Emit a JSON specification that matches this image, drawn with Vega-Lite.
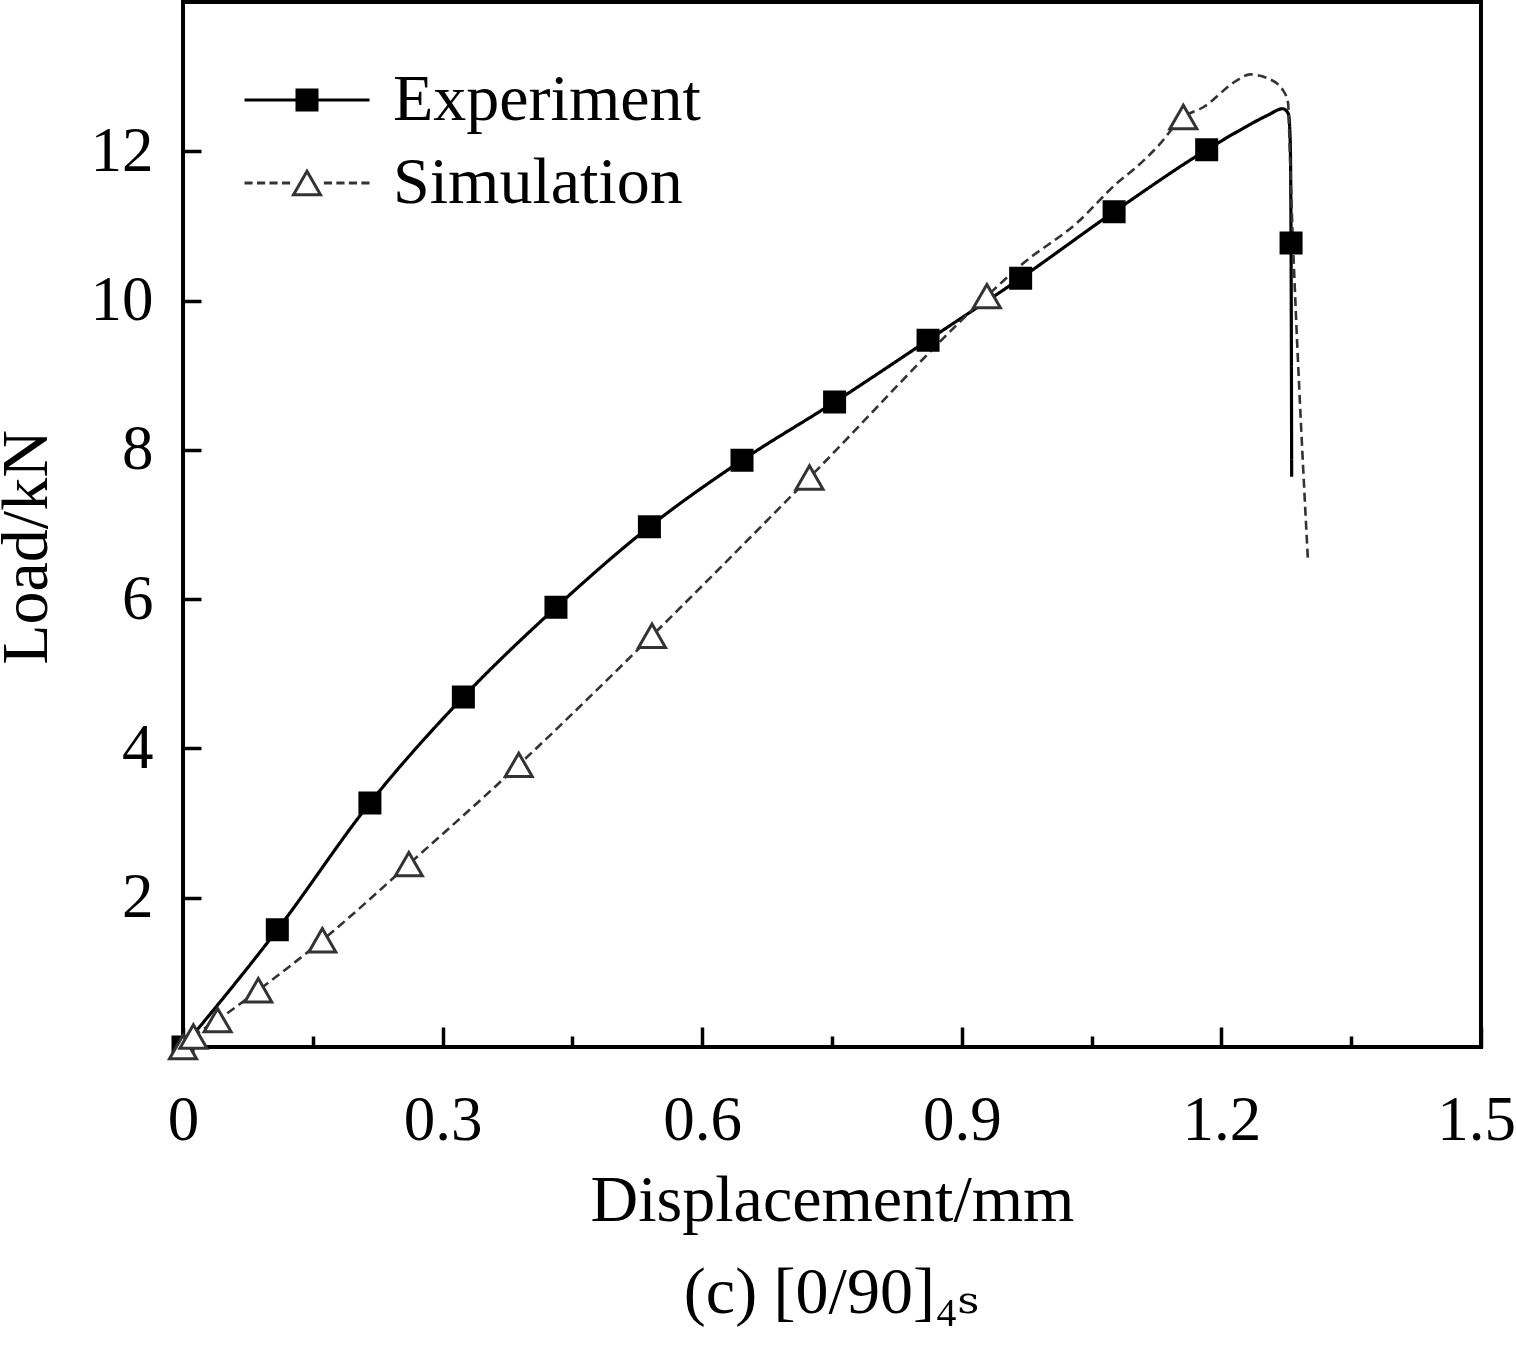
{
  "$schema": "https://vega.github.io/schema/vega-lite/v6.json",
  "width": 1298,
  "height": 1045,
  "autosize": "none",
  "padding": {"left": 183, "top": 2, "right": 35, "bottom": 299},
  "background": "white",
  "config": {
    "font": "Liberation Serif",
    "view": {"stroke": "black", "strokeWidth": 4},
    "axis": {
      "domain": false,
      "grid": false,
      "labelFont": "Liberation Serif",
      "labelFontSize": 63,
      "labelColor": "black",
      "titleFont": "Liberation Serif",
      "titleFontSize": 66,
      "titleFontWeight": "normal",
      "titleColor": "black",
      "tickColor": "black",
      "tickWidth": 3.5
    },
    "legend": {
      "title": null,
      "orient": "none",
      "legendX": 60,
      "legendY": 65,
      "padding": 0,
      "offset": 0,
      "labelFont": "Liberation Serif",
      "labelFontSize": 66,
      "labelColor": "black",
      "labelOffset": 22,
      "labelLimit": 1000,
      "symbolSize": 15625,
      "symbolStrokeWidth": 3,
      "symbolOpacity": 1,
      "clipHeight": 66,
      "rowPadding": 17
    }
  },
  "title": {
    "text": "(c) [0/90]₄ₛ",
    "orient": "bottom",
    "anchor": "middle",
    "font": "Liberation Serif, DejaVu Serif",
    "fontSize": 66,
    "fontWeight": "normal",
    "color": "black",
    "offset": 28
  },
  "datasets": {
    "curves": [
      {"series": "Experiment", "disp": 0, "load": 0},
      {"series": "Experiment", "disp": 0.109, "load": 1.57},
      {"series": "Experiment", "disp": 0.216, "load": 3.27},
      {"series": "Experiment", "disp": 0.324, "load": 4.69},
      {"series": "Experiment", "disp": 0.431, "load": 5.89},
      {"series": "Experiment", "disp": 0.539, "load": 6.97},
      {"series": "Experiment", "disp": 0.646, "load": 7.86},
      {"series": "Experiment", "disp": 0.753, "load": 8.64},
      {"series": "Experiment", "disp": 0.861, "load": 9.47},
      {"series": "Experiment", "disp": 0.968, "load": 10.3},
      {"series": "Experiment", "disp": 1.076, "load": 11.19},
      {"series": "Experiment", "disp": 1.183, "load": 12.02},
      {"series": "Experiment", "disp": 1.221, "load": 12.28},
      {"series": "Experiment", "disp": 1.253, "load": 12.48},
      {"series": "Experiment", "disp": 1.271, "load": 12.57},
      {"series": "Experiment", "disp": 1.2775, "load": 12.5},
      {"series": "Experiment", "disp": 1.2795, "load": 12.15},
      {"series": "Experiment", "disp": 1.2805, "load": 10.77},
      {"series": "Experiment", "disp": 1.2812, "load": 7.64},
      {"series": "Simulation", "disp": 0, "load": 0},
      {"series": "Simulation", "disp": 0.012, "load": 0.14},
      {"series": "Simulation", "disp": 0.04, "load": 0.36},
      {"series": "Simulation", "disp": 0.087, "load": 0.76},
      {"series": "Simulation", "disp": 0.161, "load": 1.43},
      {"series": "Simulation", "disp": 0.261, "load": 2.45},
      {"series": "Simulation", "disp": 0.388, "load": 3.78},
      {"series": "Simulation", "disp": 0.542, "load": 5.51},
      {"series": "Simulation", "disp": 0.724, "load": 7.63},
      {"series": "Simulation", "disp": 0.929, "load": 10.06},
      {"series": "Simulation", "disp": 0.971, "load": 10.5},
      {"series": "Simulation", "disp": 1.033, "load": 11.04},
      {"series": "Simulation", "disp": 1.079, "load": 11.57},
      {"series": "Simulation", "disp": 1.102, "load": 11.79},
      {"series": "Simulation", "disp": 1.126, "load": 12.06},
      {"series": "Simulation", "disp": 1.156, "load": 12.46},
      {"series": "Simulation", "disp": 1.179, "load": 12.59},
      {"series": "Simulation", "disp": 1.218, "load": 12.95},
      {"series": "Simulation", "disp": 1.233, "load": 13.03},
      {"series": "Simulation", "disp": 1.253, "load": 12.98},
      {"series": "Simulation", "disp": 1.271, "load": 12.82},
      {"series": "Simulation", "disp": 1.277, "load": 12.65},
      {"series": "Simulation", "disp": 1.279, "load": 12.02},
      {"series": "Simulation", "disp": 1.282, "load": 10.98},
      {"series": "Simulation", "disp": 1.284, "load": 10.4},
      {"series": "Simulation", "disp": 1.3, "load": 6.52}
    ],
    "markers": [
      {"series": "Experiment", "disp": 0, "load": 0},
      {"series": "Experiment", "disp": 0.109, "load": 1.57},
      {"series": "Experiment", "disp": 0.216, "load": 3.27},
      {"series": "Experiment", "disp": 0.324, "load": 4.69},
      {"series": "Experiment", "disp": 0.431, "load": 5.89},
      {"series": "Experiment", "disp": 0.539, "load": 6.97},
      {"series": "Experiment", "disp": 0.646, "load": 7.86},
      {"series": "Experiment", "disp": 0.753, "load": 8.64},
      {"series": "Experiment", "disp": 0.861, "load": 9.47},
      {"series": "Experiment", "disp": 0.968, "load": 10.3},
      {"series": "Experiment", "disp": 1.076, "load": 11.19},
      {"series": "Experiment", "disp": 1.183, "load": 12.02},
      {"series": "Experiment", "disp": 1.2805, "load": 10.77},
      {"series": "Simulation", "disp": 0, "load": 0},
      {"series": "Simulation", "disp": 0.012, "load": 0.14},
      {"series": "Simulation", "disp": 0.04, "load": 0.36},
      {"series": "Simulation", "disp": 0.087, "load": 0.76},
      {"series": "Simulation", "disp": 0.161, "load": 1.43},
      {"series": "Simulation", "disp": 0.261, "load": 2.45},
      {"series": "Simulation", "disp": 0.388, "load": 3.78},
      {"series": "Simulation", "disp": 0.542, "load": 5.51},
      {"series": "Simulation", "disp": 0.724, "load": 7.63},
      {"series": "Simulation", "disp": 0.929, "load": 10.06},
      {"series": "Simulation", "disp": 1.156, "load": 12.46}
    ]
  },
  "layer": [
    {
      "data": {"name": "curves"},
      "mark": {"type": "line", "interpolate": "monotone"},
      "encoding": {
        "x": {
          "field": "disp",
          "type": "quantitative",
          "scale": {"domain": [0, 1.5], "nice": false, "zero": false},
          "axis": {
            "orient": "bottom",
            "values": [0, 0.3, 0.6, 0.9, 1.2, 1.5],
            "format": "~g",
            "tickSize": -20,
            "labelPadding": 62,
            "labelFlush": false,
            "labelOffset": {"condition": {"test": "datum.value == 1.5", "value": -5}, "value": 0},
            "title": "Displacement/mm",
            "titlePadding": 16
          }
        },
        "y": {
          "field": "load",
          "type": "quantitative",
          "scale": {"domain": [0, 14], "nice": false},
          "axis": {
            "values": [2, 4, 6, 8, 10, 12],
            "tickSize": -18,
            "labelPadding": 48,
            "title": "Load/kN",
            "titlePadding": 30,
            "titleY": 545
          }
        },
        "detail": {"field": "series", "type": "nominal"},
        "color": {"condition": {"test": "datum.series === 'Simulation'", "value": "#333333"}, "value": "black"},
        "strokeDash": {"condition": {"test": "datum.series === 'Simulation'", "value": [9, 5]}, "value": [1, 0]},
        "strokeWidth": {"condition": {"test": "datum.series === 'Simulation'", "value": 2.6}, "value": 3.2}
      }
    },
    {
      "data": {"name": "markers"},
      "mark": {"type": "point", "filled": true, "size": 900, "strokeWidth": 3, "opacity": 1},
      "encoding": {
        "x": {
          "field": "disp",
          "type": "quantitative",
          "axis": {
            "orient": "bottom",
            "values": [0.15, 0.45, 0.75, 1.05, 1.35],
            "labels": false,
            "tickSize": -11,
            "title": null
          }
        },
        "y": {"field": "load", "type": "quantitative", "axis": null},
        "shape": {"condition": {"test": "datum.series === 'Experiment'", "value": "M-0.667,-0.667H0.667V0.667H-0.667Z"}, "value": "M0,-0.78L0.9,0.78L-0.9,0.78Z"},
        "fill": {"condition": {"test": "datum.series === 'Experiment'", "value": "black"}, "value": "white"},
        "stroke": {"condition": {"test": "datum.series === 'Experiment'", "value": "black"}, "value": "#333333"}
      }
    },
    {
      "data": {"name": "markers"},
      "transform": [{"filter": "datum.load < 0"}],
      "mark": {"type": "point", "filled": true, "strokeWidth": 3, "opacity": 1},
      "encoding": {
        "x": {"field": "disp", "type": "quantitative", "axis": null},
        "y": {"field": "load", "type": "quantitative", "axis": null},
        "shape": {
          "field": "series",
          "type": "nominal",
          "title": null,
          "scale": {
            "domain": ["Experiment", "Simulation"],
            "range": [
              "M-1,0H1M-0.16,-0.16H0.16V0.16H-0.16Z",
              "M-1,0H-0.87M-0.8,0H-0.67M-0.6,0H-0.47M-0.4,0H-0.27M0.27,0H0.4M0.47,0H0.6M0.67,0H0.8M0.87,0H1M0,-0.187L0.216,0.187L-0.216,0.187Z"
            ]
          },
          "legend": {"title": null, "orient": "none", "legendX": 60, "legendY": 65}
        },
        "fill": {
          "field": "series",
          "type": "nominal",
          "title": null,
          "scale": {"domain": ["Experiment", "Simulation"], "range": ["black", "white"]},
          "legend": {"title": null, "orient": "none", "legendX": 60, "legendY": 65}
        },
        "stroke": {
          "field": "series",
          "type": "nominal",
          "title": null,
          "scale": {"domain": ["Experiment", "Simulation"], "range": ["black", "#333333"]},
          "legend": {"title": null, "orient": "none", "legendX": 60, "legendY": 65}
        }
      }
    }
  ],
  "resolve": {
    "axis": {"x": "independent", "y": "independent"}
  }
}
